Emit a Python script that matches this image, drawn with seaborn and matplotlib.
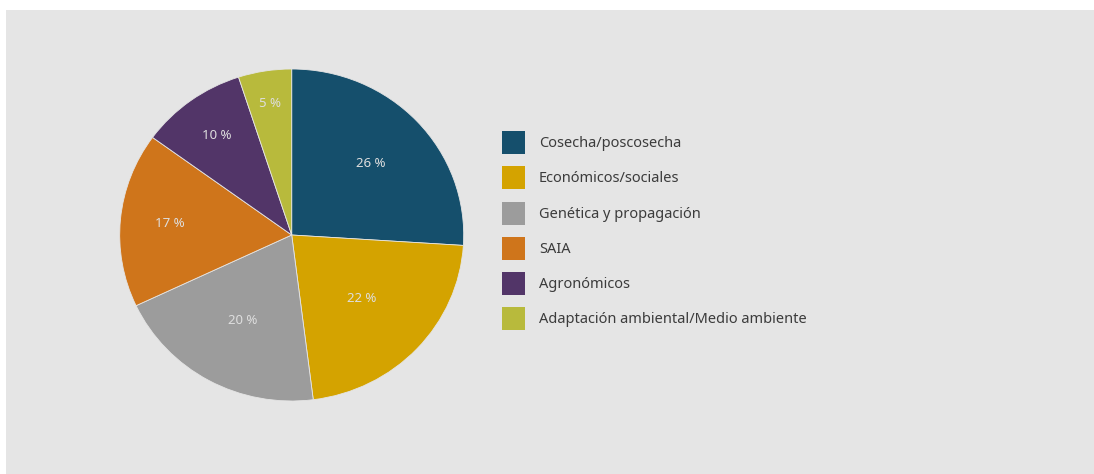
import matplotlib

matplotlib.use("Agg")

import numpy as np
import matplotlib.pyplot as plt
import seaborn as sns
from matplotlib.patches import Rectangle

categories = [
    "Cosecha/poscosecha",
    "Económicos/sociales",
    "Genética y propagación",
    "SAIA",
    "Agronómicos",
    "Adaptación ambiental/Medio ambiente",
]
shares = [26, 22, 20, 17, 10, 5]
colors = ["#154f6c", "#d4a300", "#9c9c9c", "#cf751b", "#523568", "#b8ba3c"]

W, H = 1094, 474
sns.set_theme(style="white")
plt.rcParams["font.family"] = ["Noto Sans", "DejaVu Sans"]

fig = plt.figure(figsize=(W / 100, H / 100), dpi=100)
fig.patch.set_facecolor("white")
# gray panel behind the chart
fig.patches.append(
    Rectangle((6 / W, 0), 1 - 6 / W, (H - 10) / H, transform=fig.transFigure,
              facecolor="#e5e5e5", edgecolor="none", zorder=-5)
)

# pie axes positioned in pixels
cx, cy, rx, ry = 291.7, 239, 172, 166
ax = fig.add_axes([(cx - rx) / W, (cy - ry) / H, 2 * rx / W, 2 * ry / H])
ax.set_facecolor("none")
ax.set_zorder(2)

palette = sns.color_palette(colors)
wedges, texts, autotexts = ax.pie(
    shares,
    colors=palette,
    startangle=90,
    counterclock=False,
    autopct=lambda p: f"{p:.0f} %",
    pctdistance=0.63,
    wedgeprops=dict(linewidth=0.6, edgecolor="#e5e5e5"),
    textprops=dict(color="#dedede", fontsize=9.5),
)

# label placement similar to the original "best fit" layout
label_dist = [0.63, 0.56, 0.59, 0.71, 0.74, 0.80]
for w, t, d in zip(wedges, autotexts, label_dist):
    mid = np.deg2rad((w.theta1 + w.theta2) / 2)
    t.set_position((d * np.cos(mid), d * np.sin(mid)))

ax.set_xlim(-1, 1)
ax.set_ylim(-1, 1)
ax.set_aspect("auto")
ax.axis("off")

leg = fig.legend(
    wedges,
    categories,
    loc="upper left",
    bbox_to_anchor=(502 / W, (H - 131) / H),
    frameon=False,
    fontsize=10.5,
    handlelength=1.58,
    handleheight=2.05,
    handletextpad=0.96,
    labelspacing=0.84,
    borderpad=0,
    borderaxespad=0,
    labelcolor="#3c3c3c",
)
for h in leg.legend_handles:
    h.set_edgecolor("none")

fig.savefig("out.png", dpi=100)
